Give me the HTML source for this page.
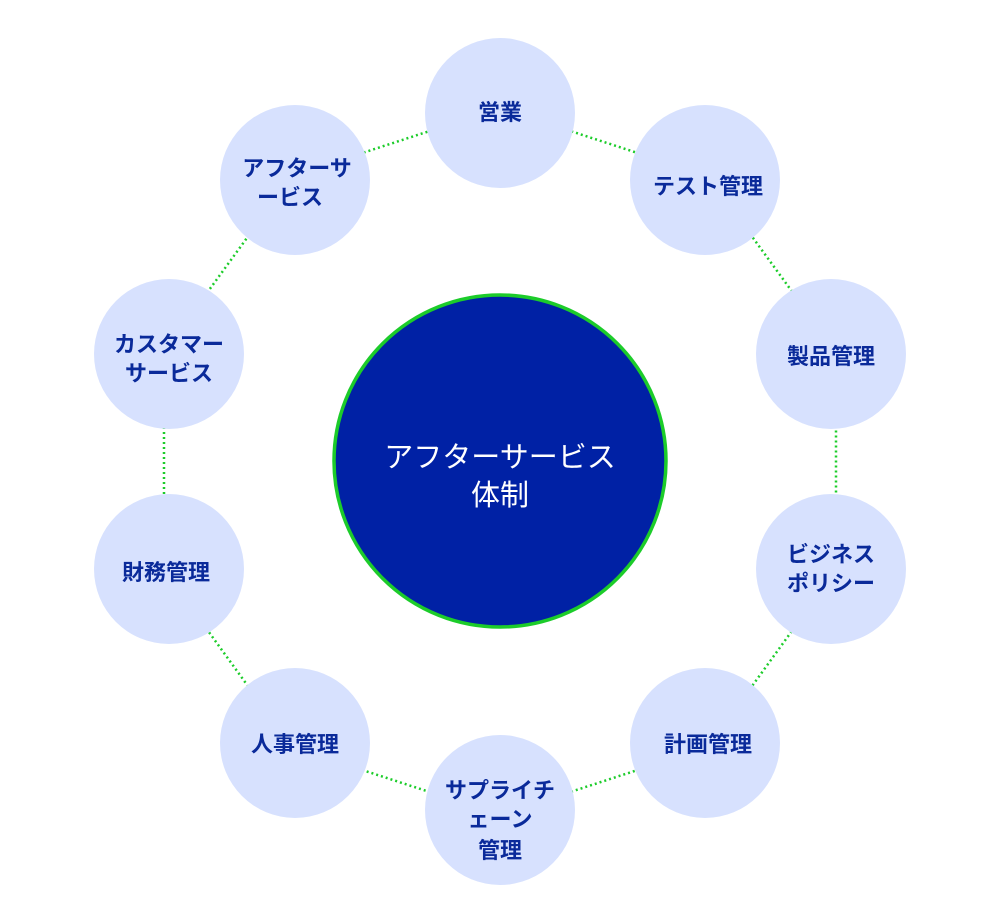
<!DOCTYPE html>
<html><head><meta charset="utf-8"><style>
html,body{margin:0;padding:0;background:#fff;}
svg text{font-family:"Liberation Sans","Noto Sans CJK JP",sans-serif;}
</style></head><body>
<svg width="1000" height="919" viewBox="0 0 1000 919" xmlns="http://www.w3.org/2000/svg">
<polygon points="500,108 708,176 836,352 836,570 708,747 500,815 292,747 164,570 164,352 292,176" fill="none" stroke="#1ccc2a" stroke-width="2.5" stroke-dasharray="2 3"/>
<g fill="#d7e1fe">
<circle cx="500" cy="113" r="75"/>
<circle cx="705" cy="180" r="75"/>
<circle cx="831" cy="354" r="75"/>
<circle cx="831" cy="569" r="75"/>
<circle cx="705" cy="743" r="75"/>
<circle cx="500" cy="810" r="75"/>
<circle cx="295" cy="743" r="75"/>
<circle cx="169" cy="569" r="75"/>
<circle cx="169" cy="354" r="75"/>
<circle cx="295" cy="180" r="75"/>
</g>
<circle cx="500" cy="461" r="166" fill="#0021a5" stroke="#1ccc2a" stroke-width="3.5"/>
<g fill="#0a2a9a" font-size="22" font-weight="bold" text-anchor="middle">
<text x="500" y="120">営業</text>
<text x="708" y="194">テスト管理</text>
<text x="831" y="364">製品管理</text>
<text x="831" y="562">ビジネス</text>
<text x="831" y="591">ポリシー</text>
<text x="708" y="752">計画管理</text>
<text x="500" y="798">サプライチ</text>
<text x="500" y="827">ェーン</text>
<text x="500" y="858">管理</text>
<text x="295" y="752">人事管理</text>
<text x="166" y="580">財務管理</text>
<text x="169" y="352">カスタマー</text>
<text x="169" y="381">サービス</text>
<text x="297" y="176">アフターサ</text>
<text x="290" y="205">ービス</text>
</g>
<g fill="#fff" font-size="29" text-anchor="middle">
<text x="500" y="467">アフターサービス</text>
<text x="500" y="505">体制</text>
</g>
</svg>
</body></html>
